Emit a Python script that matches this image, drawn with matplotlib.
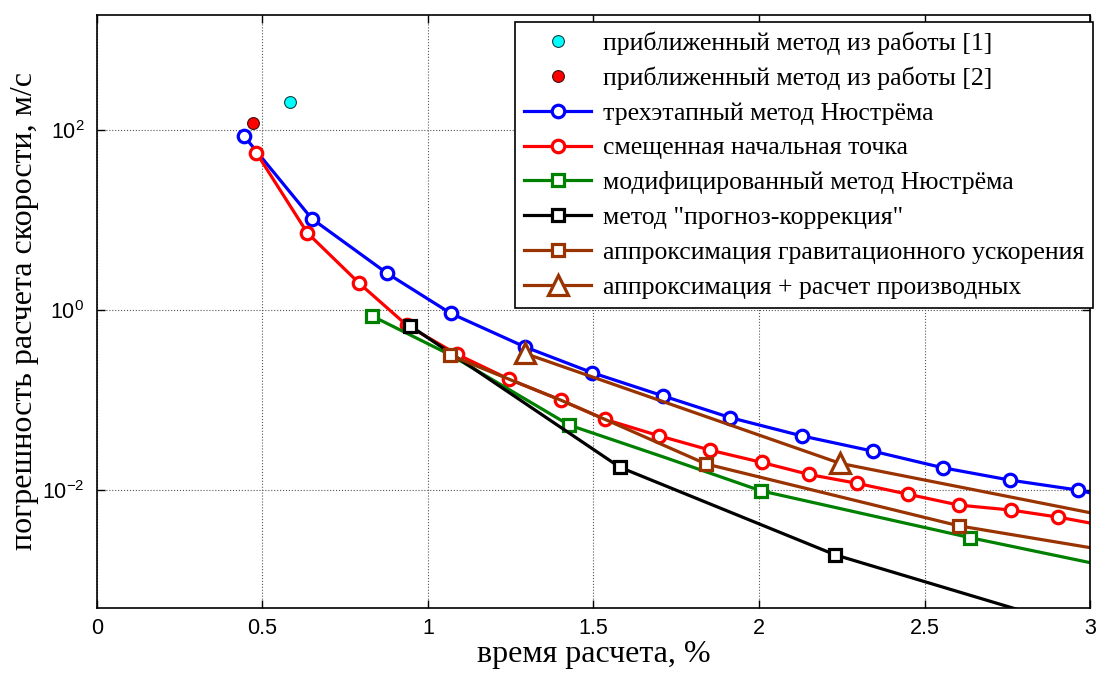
import numpy as np
import matplotlib
matplotlib.use("Agg")
import matplotlib.pyplot as plt

# опорные точки
ref1_x = [0.583]
ref1_y = [203.0]
ref2_x = [0.472]
ref2_y = [119.0]

# трехэтапный метод Нюстрёма
blue_x = [0.444, 0.649, 0.877, 1.069, 1.293, 1.497, 1.711, 1.912, 2.129, 2.343, 2.555, 2.758, 2.963, 3.0]
blue_y = [86.5, 10.4, 2.56, 0.92, 0.39, 0.201, 0.111, 0.064, 0.040, 0.0271, 0.0177, 0.0129, 0.0100, 0.0093]
blue_mark = list(range(13))

# смещенная начальная точка
red_x = [0.482, 0.636, 0.793, 0.936, 1.087, 1.246, 1.401, 1.535, 1.699, 1.852, 2.008, 2.151, 2.295,
         2.449, 2.604, 2.760, 2.904, 3.0]
red_y = [56.0, 7.2, 1.98, 0.68, 0.324, 0.17, 0.10, 0.061, 0.040, 0.0278, 0.0203, 0.0149, 0.0119,
         0.0090, 0.0068, 0.0060, 0.0050, 0.0043]
red_mark = list(range(17))

# модифицированный метод Нюстрёма
green_x = [0.830, 1.069, 1.427, 1.716, 2.006, 2.637, 3.0]
green_y = [0.865, 0.316, 0.0527, 0.0230, 0.0098, 0.00296, 0.00156]
green_mark = [0, 2, 4, 5]

# метод "прогноз-коррекция"
black_x = [0.946, 1.580, 2.231, 3.0]
black_y = [0.67, 0.0179, 0.0019, 0.00027]
black_mark = [0, 1, 2]

# аппроксимация гравитационного ускорения
bsq_x = [1.066, 1.246, 1.401, 1.535, 1.840, 2.604, 3.0]
bsq_y = [0.316, 0.17, 0.10, 0.061, 0.0195, 0.0040, 0.00229]
bsq_mark = [0, 4, 5]

# аппроксимация + расчет производных
btr_x = [1.293, 2.245, 3.0]
btr_y = [0.33, 0.0198, 0.0056]
btr_mark = [0, 1]

labels = [
    "приближенный метод из работы [1]",
    "приближенный метод из работы [2]",
    "трехэтапный метод Нюстрёма",
    "смещенная начальная точка",
    "модифицированный метод Нюстрёма",
    'метод "прогноз-коррекция"',
    "аппроксимация гравитационного ускорения",
    "аппроксимация + расчет производных",
]

brown = "#993300"
serif = "Liberation Serif"

plt.rcParams["font.family"] = "Liberation Sans"
plt.rcParams["mathtext.fontset"] = "custom"
plt.rcParams["mathtext.rm"] = "Liberation Sans"

fig = plt.figure(figsize=(11, 6.8), dpi=100)
ax = fig.add_axes([0.088, 0.106, 0.903, 0.872])

ax.plot(ref1_x, ref1_y, "o", color="cyan", mec="#104040", ms=8.5, mew=0.8, label=labels[0])
ax.plot(ref2_x, ref2_y, "o", color="red", mec="#401010", ms=8.5, mew=0.8, label=labels[1])
ax.plot(blue_x, blue_y, "-o", color="blue", mfc="white", ms=9, mew=2.3, lw=2.3,
        markevery=blue_mark, label=labels[2])
ax.plot(red_x, red_y, "-o", color="red", mfc="white", ms=9, mew=2.3, lw=2.3,
        markevery=red_mark, label=labels[3])
ax.plot(green_x, green_y, "-s", color="green", mfc="white", ms=8, mew=2.3, lw=2.3,
        markevery=green_mark, label=labels[4])
ax.plot(black_x, black_y, "-s", color="black", mfc="white", ms=8, mew=2.3, lw=2.3,
        markevery=black_mark, label=labels[5])
ax.plot(bsq_x, bsq_y, "-s", color=brown, mfc="white", ms=8, mew=2.3, lw=2.3,
        markevery=bsq_mark, label=labels[6])
ax.plot(btr_x, btr_y, "-^", color=brown, mfc="white", ms=14, mew=2.3, lw=2.3,
        markevery=btr_mark, label=labels[7])

ax.set_yscale("log")
ax.set_xlim(0, 3)
ax.set_ylim(10 ** -3.31, 10 ** 3.28)
ax.set_xticks([0, 0.5, 1, 1.5, 2, 2.5, 3])
ax.set_xticklabels(["0", "0.5", "1", "1.5", "2", "2.5", "3"])
ax.set_yticks([1e-2, 1e0, 1e2])
ax.set_yticklabels(["$10^{-2}$", "$10^{0}$", "$10^{2}$"])
ax.yaxis.set_minor_locator(matplotlib.ticker.NullLocator())
ax.tick_params(direction="in", length=6, width=1, labelsize=15.5, top=True, right=True, pad=9)
ax.tick_params(axis="x", pad=7)
ax.grid(True, linestyle=":", color="#555555", linewidth=0.8)
for s in ax.spines.values():
    s.set_linewidth(1.2)

ax.set_xlabel("время расчета, %", fontsize=23, family=serif, labelpad=1)
ax.set_ylabel("погрешность расчета скорости, м/с", fontsize=23, family=serif, labelpad=2)

leg = ax.legend(loc="upper right", bbox_to_anchor=(1.003, 0.988), borderaxespad=0,
                prop={"family": serif, "size": 18.5},
                fancybox=False, edgecolor="black", framealpha=1, handlelength=2.6,
                borderpad=0.35, labelspacing=0.46, handletextpad=0.45)
leg.get_frame().set_linewidth(1.2)

fig.savefig("out.png", dpi=100)
